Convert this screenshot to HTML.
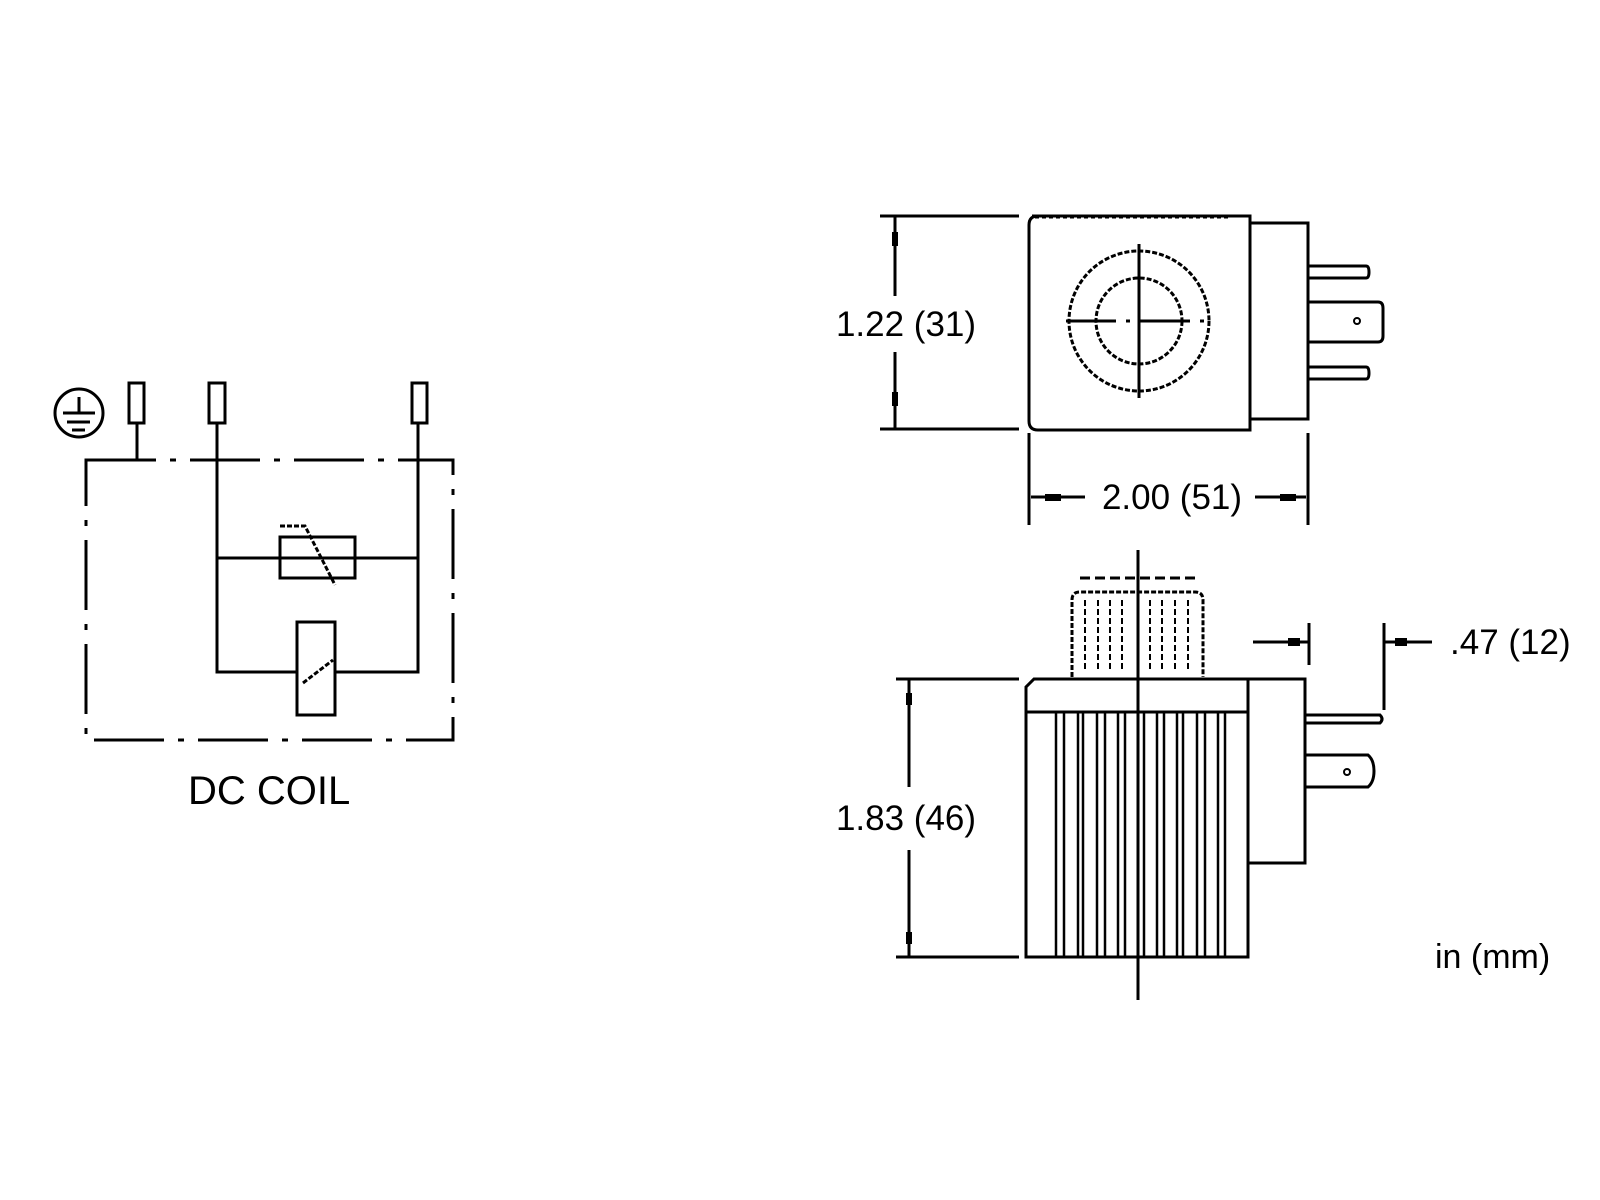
<!DOCTYPE html>
<html><head><meta charset="utf-8"><style>
html,body{margin:0;padding:0;background:#fff;}
svg{display:block;}
text{font-family:"Liberation Sans",sans-serif;fill:#000;}
</style></head><body>
<svg width="1600" height="1200" viewBox="0 0 1600 1200" xmlns="http://www.w3.org/2000/svg">
<rect width="1600" height="1200" fill="#fff"/>
<g stroke="#000" stroke-width="3" fill="none">
<circle cx="79" cy="413" r="24"/>
<line x1="79" y1="397" x2="79" y2="413"/>
<line x1="63" y1="413" x2="95" y2="413"/>
<line x1="67" y1="422" x2="90" y2="422"/>
<line x1="72" y1="430" x2="85" y2="430"/>
<rect x="129" y="383" width="15" height="40"/>
<rect x="209" y="383" width="16" height="40"/>
<rect x="412" y="383" width="15" height="40"/>
<polyline points="137,423 137,460 150,460"/>
<rect x="86" y="460" width="367" height="280" stroke-dasharray="70 14 6 14"/>
<polyline points="217,423 217,672 297,672"/>
<polyline points="418,423 418,672 335,672"/>
<line x1="217" y1="558" x2="418" y2="558"/>
<rect x="280" y="537" width="75" height="41"/>
<polyline points="280,526 305,526 335,585" stroke-dasharray="5 2"/>
<rect x="297" y="622" width="38" height="93"/>
<line x1="303" y1="683" x2="333" y2="660" stroke-dasharray="5 2"/>

<line x1="880" y1="216" x2="1019" y2="216"/>
<line x1="880" y1="429" x2="1019" y2="429"/>
<line x1="895" y1="216" x2="895" y2="296"/>
<line x1="895" y1="352" x2="895" y2="429"/>
<path d="M1032,216 L1250,216 L1250,430 L1038,430 Q1029,430 1029,421 L1029,225 Q1029,216 1038,216" />
<line x1="1035" y1="217" x2="1230" y2="217" stroke-dasharray="4 3"/>
<rect x="1250" y="223" width="58" height="196"/>
<path d="M1309,266 L1366,266 Q1369,266 1369,272 Q1369,278 1366,278 L1309,278"/>
<path d="M1309,302 L1378,302 Q1383,302 1383,308 L1383,336 Q1383,342 1378,342 L1309,342"/>
<path d="M1309,367 L1366,367 Q1369,367 1369,373 Q1369,379 1366,379 L1309,379"/>
<circle cx="1357" cy="321" r="3" stroke-width="2"/>
<circle cx="1139" cy="321" r="70" stroke-dasharray="5 2"/>
<circle cx="1139" cy="321" r="43" stroke-dasharray="5 2"/>
<line x1="1139" y1="244" x2="1139" y2="398"/>
<line x1="1066" y1="321" x2="1212" y2="321" stroke-dasharray="50 10 4 10"/>
<line x1="1029" y1="433" x2="1029" y2="525"/>
<line x1="1308" y1="433" x2="1308" y2="525"/>
<line x1="1031" y1="497" x2="1085" y2="497"/>
<line x1="1255" y1="497" x2="1306" y2="497"/>

<line x1="1138" y1="550" x2="1138" y2="1000"/>
<path d="M1072,677 L1072,600 Q1072,592 1080,592 L1195,592 Q1203,592 1203,600 L1203,677" stroke-dasharray="5 2"/>
<line x1="1080" y1="578" x2="1195" y2="578" stroke-dasharray="10 5"/>
<g stroke-width="2" stroke-dasharray="6 3">
<line x1="1085" y1="600" x2="1085" y2="672"/><line x1="1098" y1="600" x2="1098" y2="672"/>
<line x1="1110" y1="600" x2="1110" y2="672"/><line x1="1122" y1="600" x2="1122" y2="672"/>
<line x1="1150" y1="600" x2="1150" y2="672"/><line x1="1162" y1="600" x2="1162" y2="672"/>
<line x1="1175" y1="600" x2="1175" y2="672"/><line x1="1188" y1="600" x2="1188" y2="672"/>
</g>
<path d="M1034,679 L1248,679 L1248,957 L1026,957 L1026,687 Z"/>
<line x1="1026" y1="712" x2="1248" y2="712"/>
<rect x="1248" y="679" width="57" height="184"/>
<g stroke-width="2.5">
<line x1="1056" y1="712" x2="1056" y2="957"/><line x1="1064" y1="712" x2="1064" y2="957"/>
<line x1="1078" y1="712" x2="1078" y2="957"/><line x1="1083" y1="712" x2="1083" y2="957"/>
<line x1="1097" y1="712" x2="1097" y2="957"/><line x1="1105" y1="712" x2="1105" y2="957"/>
<line x1="1118" y1="712" x2="1118" y2="957"/><line x1="1125" y1="712" x2="1125" y2="957"/>
<line x1="1144" y1="712" x2="1144" y2="957"/><line x1="1157" y1="712" x2="1157" y2="957"/>
<line x1="1164" y1="712" x2="1164" y2="957"/><line x1="1177" y1="712" x2="1177" y2="957"/>
<line x1="1183" y1="712" x2="1183" y2="957"/><line x1="1197" y1="712" x2="1197" y2="957"/>
<line x1="1205" y1="712" x2="1205" y2="957"/><line x1="1218" y1="712" x2="1218" y2="957"/>
<line x1="1225" y1="712" x2="1225" y2="957"/>
</g>
<path d="M1305,715 L1380,715 Q1384,719 1380,723 L1305,723"/>
<path d="M1305,755 L1368,755 Q1374,760 1374,771 Q1374,782 1368,787 L1305,787"/>
<circle cx="1347" cy="772" r="3" stroke-width="2"/>
<line x1="896" y1="679" x2="1019" y2="679"/>
<line x1="896" y1="957" x2="1019" y2="957"/>
<line x1="909" y1="679" x2="909" y2="787"/>
<line x1="909" y1="850" x2="909" y2="957"/>
<line x1="1309" y1="623" x2="1309" y2="665"/>
<line x1="1384" y1="623" x2="1384" y2="710"/>
<line x1="1253" y1="642" x2="1309" y2="642"/>
<line x1="1384" y1="642" x2="1432" y2="642"/>
</g>
<g fill="#000">
<rect x="892" y="232" width="6" height="14"/>
<rect x="892" y="392" width="6" height="14"/>
<rect x="1045" y="494" width="16" height="7"/>
<rect x="1280" y="494" width="16" height="7"/>
<rect x="906" y="693" width="6" height="12"/>
<rect x="906" y="932" width="6" height="12"/>
<rect x="1288" y="638" width="12" height="8"/>
<rect x="1395" y="638" width="12" height="8"/>
</g>
<text x="906" y="336" font-size="35" text-anchor="middle">1.22 (31)</text>
<text x="1172" y="509" font-size="35" text-anchor="middle">2.00 (51)</text>
<text x="906" y="830" font-size="35" text-anchor="middle">1.83 (46)</text>
<text x="1450" y="654" font-size="35">.47 (12)</text>
<text x="1435" y="968" font-size="34">in (mm)</text>
<text x="188" y="804" font-size="40">DC COIL</text>
</svg>
</body></html>
